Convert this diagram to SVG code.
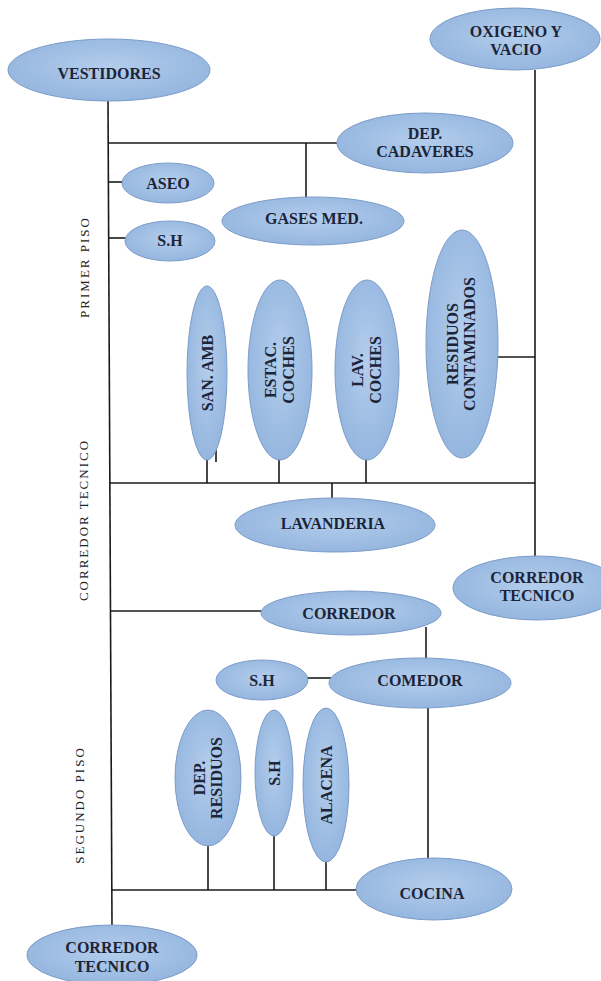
<svg xmlns="http://www.w3.org/2000/svg" width="601" height="981" viewBox="0 0 601 981">
  <style>
    .node ellipse { fill: url(#blue); stroke: #7c9cc8; stroke-width: 1; }
    .node text { font-family: "Liberation Serif", "Times New Roman", serif; font-weight: bold; font-size: 16px; fill: #1c2438; text-anchor: middle; }
    .wire line { stroke: #1a1a1a; stroke-width: 1.6; }
    .floor { font-family: "Liberation Serif", "Times New Roman", serif; font-size: 13px; fill: #222; text-anchor: middle; letter-spacing: 2px; }
  </style>
  <defs>
    <radialGradient id="blue" cx="50%" cy="45%" r="55%">
      <stop offset="0" stop-color="#b3cdec"/>
      <stop offset="1" stop-color="#95b6df"/>
    </radialGradient>
  </defs>
  <rect width="601" height="981" fill="#ffffff"/>

  <!-- floor labels -->
  <text class="floor" transform="translate(89,267) rotate(-90)">PRIMER PISO</text>
  <text class="floor" transform="translate(88,520) rotate(-90)">CORREDOR TECNICO</text>
  <text class="floor" transform="translate(84,805) rotate(-90)">SEGUNDO PISO</text>

  <!-- connectors -->
  <g id="connectors" class="wire">
    <line x1="108" y1="100" x2="112" y2="926"/>
    <line x1="108" y1="143" x2="338" y2="143"/>
    <line x1="306" y1="143" x2="306" y2="198"/>
    <line x1="108" y1="182" x2="123" y2="182"/>
    <line x1="108" y1="238" x2="126" y2="238"/>
    <line x1="535" y1="70" x2="535" y2="557"/>
    <line x1="497" y1="357" x2="535" y2="357"/>
    <line x1="109" y1="483" x2="535" y2="483"/>
    <line x1="216" y1="445" x2="216" y2="462"/>
    <line x1="207" y1="459" x2="207" y2="483"/>
    <line x1="279" y1="459" x2="279" y2="483"/>
    <line x1="366" y1="459" x2="366" y2="483"/>
    <line x1="332" y1="483" x2="332" y2="498"/>
    <line x1="110" y1="611" x2="262" y2="611"/>
    <line x1="426" y1="627" x2="426" y2="659"/>
    <line x1="307" y1="678" x2="331" y2="678"/>
    <line x1="428" y1="707" x2="428" y2="859"/>
    <line x1="112" y1="890" x2="357" y2="890"/>
    <line x1="208" y1="845" x2="208" y2="890"/>
    <line x1="274" y1="835" x2="274" y2="890"/>
    <line x1="326" y1="861" x2="326" y2="890"/>
  </g>

  <!-- first floor -->
  <g id="vestidores" class="node">
    <ellipse cx="109" cy="70" rx="101" ry="31"/>
    <text x="109" y="79">VESTIDORES</text>
  </g>
  <g id="oxigeno-vacio" class="node">
    <ellipse cx="515" cy="39" rx="85" ry="31"/>
    <text x="516" y="37">OXIGENO Y</text>
    <text x="516" y="55">VACIO</text>
  </g>
  <g id="dep-cadaveres" class="node">
    <ellipse cx="425" cy="143" rx="88" ry="30"/>
    <text x="425" y="139">DEP.</text>
    <text x="425" y="157">CADAVERES</text>
  </g>
  <g id="aseo" class="node">
    <ellipse cx="168" cy="183" rx="46" ry="20"/>
    <text x="168" y="189">ASEO</text>
  </g>
  <g id="gases-med" class="node">
    <ellipse cx="313" cy="221" rx="91" ry="24"/>
    <text x="314" y="224">GASES MED.</text>
  </g>
  <g id="sh-1" class="node">
    <ellipse cx="170" cy="241" rx="45" ry="20"/>
    <text x="170" y="246">S.H</text>
  </g>
  <g id="san-amb" class="node">
    <ellipse cx="207" cy="373" rx="20" ry="87"/>
    <text transform="translate(207,373) rotate(-90)" y="5.5">SAN. AMB</text>
  </g>
  <g id="estac-coches" class="node">
    <ellipse cx="280" cy="370" rx="32" ry="90"/>
    <text transform="translate(280,370) rotate(-90)" y="-4">ESTAC.</text>
    <text transform="translate(280,370) rotate(-90)" y="14">COCHES</text>
  </g>
  <g id="lav-coches" class="node">
    <ellipse cx="367" cy="370" rx="32" ry="90"/>
    <text transform="translate(367,370) rotate(-90)" y="-4">LAV.</text>
    <text transform="translate(367,370) rotate(-90)" y="14">COCHES</text>
  </g>
  <g id="residuos-contaminados" class="node">
    <ellipse cx="462" cy="344" rx="36" ry="114"/>
    <text transform="translate(462,344) rotate(-90)" y="-4">RESIDUOS</text>
    <text transform="translate(462,344) rotate(-90)" y="13">CONTAMINADOS</text>
  </g>

  <!-- technical corridor -->
  <g id="lavanderia" class="node">
    <ellipse cx="335" cy="525" rx="100" ry="27"/>
    <text x="333" y="529">LAVANDERIA</text>
  </g>
  <g id="corredor-tecnico-derecha" class="node">
    <ellipse cx="537" cy="588" rx="84" ry="32"/>
    <text x="537" y="583">CORREDOR</text>
    <text x="537" y="601">TECNICO</text>
  </g>

  <!-- second floor -->
  <g id="corredor" class="node">
    <ellipse cx="351" cy="613" rx="90" ry="22"/>
    <text x="349" y="619">CORREDOR</text>
  </g>
  <g id="sh-2" class="node">
    <ellipse cx="262" cy="680" rx="46" ry="20"/>
    <text x="262" y="686">S.H</text>
  </g>
  <g id="comedor" class="node">
    <ellipse cx="420" cy="683" rx="91" ry="25"/>
    <text x="420" y="686">COMEDOR</text>
  </g>
  <g id="dep-residuos" class="node">
    <ellipse cx="208" cy="778" rx="33" ry="68"/>
    <text transform="translate(208,778) rotate(-90)" y="-3">DEP.</text>
    <text transform="translate(208,778) rotate(-90)" y="14">RESIDUOS</text>
  </g>
  <g id="sh-3" class="node">
    <ellipse cx="274" cy="773" rx="19" ry="63"/>
    <text transform="translate(274,773) rotate(-90)" y="5.5">S.H</text>
  </g>
  <g id="alacena" class="node">
    <ellipse cx="326" cy="785" rx="23" ry="77"/>
    <text transform="translate(326,785) rotate(-90)" y="5.5">ALACENA</text>
  </g>
  <g id="cocina" class="node">
    <ellipse cx="434" cy="889" rx="78" ry="31"/>
    <text x="432" y="899">COCINA</text>
  </g>
  <g id="corredor-tecnico-abajo" class="node">
    <ellipse cx="112" cy="955" rx="85" ry="30"/>
    <text x="112" y="953">CORREDOR</text>
    <text x="112" y="972">TECNICO</text>
  </g>
</svg>
